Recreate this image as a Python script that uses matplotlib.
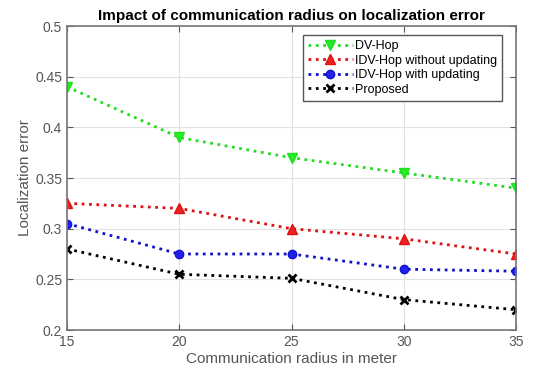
import matplotlib
matplotlib.use("Agg")
import matplotlib.pyplot as plt

plt.rcParams['font.family'] = ['Liberation Sans', 'DejaVu Sans']

radius = [15, 20, 25, 30, 35]
dv_hop = [0.44, 0.39, 0.37, 0.355, 0.34]
idv_no_update = [0.325, 0.32, 0.30, 0.29, 0.275]
idv_update = [0.305, 0.275, 0.275, 0.26, 0.258]
proposed = [0.28, 0.255, 0.251, 0.23, 0.22]

fig = plt.figure(figsize=(5.43, 3.72), dpi=100)
ax = fig.add_axes([67 / 543, 1 - 330 / 372, 449 / 543, 304 / 372])

ax.plot(radius, dv_hop, color="#22dd22", linestyle=":", linewidth=2,
        marker="v", markersize=7, markerfacecolor="#22ee22", label="DV-Hop")
ax.plot(radius, idv_no_update, color="#dd1111", linestyle=":", linewidth=2,
        marker="^", markersize=7, markerfacecolor="#ee2222", label="IDV-Hop without updating")
ax.plot(radius, idv_update, color="#1111cc", linestyle=":", linewidth=2,
        marker="o", markersize=6, markerfacecolor="#2222ee", label="IDV-Hop with updating")
ax.plot(radius, proposed, color="black", linestyle=":", linewidth=2,
        marker="x", markersize=6, markeredgewidth=2, label="Proposed")

ax.set_xlim(15, 35)
ax.set_ylim(0.2, 0.5)
ax.set_xticks([15, 20, 25, 30, 35])
ax.set_yticks([0.2, 0.25, 0.3, 0.35, 0.4, 0.45, 0.5])
ax.set_yticklabels(["0.2", "0.25", "0.3", "0.35", "0.4", "0.45", "0.5"])
ax.tick_params(direction="in", length=4, labelsize=10, colors="#555555",
               top=True, right=True)
ax.grid(True, color="#e2e2e2", linewidth=0.8)
for s in ax.spines.values():
    s.set_color("#777777")
    s.set_linewidth(1.2)

ax.set_title("Impact of communication radius on localization error",
             fontsize=11, fontweight="bold", pad=4)
ax.set_xlabel("Communication radius in meter", fontsize=11, color="#555555", labelpad=2)
ax.set_ylabel("Localization error", fontsize=11, color="#555555", labelpad=2)

leg = ax.legend(loc="upper right", bbox_to_anchor=(0.975, 0.978), fontsize=9,
                fancybox=False, framealpha=1, edgecolor="#555555",
                handlelength=3.6, borderaxespad=0.2, labelspacing=0.2,
                handletextpad=0.2, borderpad=0.4)
leg.get_frame().set_linewidth(1.0)

fig.savefig("out.png", dpi=100)
